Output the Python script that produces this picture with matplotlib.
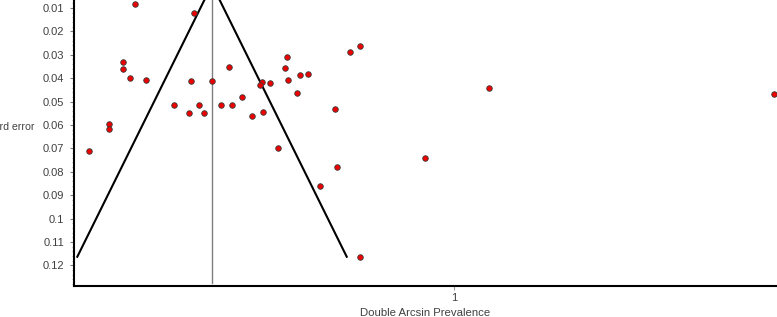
import numpy as np
import matplotlib.pyplot as plt
from matplotlib.ticker import MultipleLocator, FixedLocator

# study estimates (double arcsine prevalence) and their standard errors
effect = [0.460, 0.559, 0.440, 0.440, 0.451, 0.478, 0.554, 0.590, 0.618, 0.526,
          0.551, 0.568, 0.577, 0.606, 0.623, 0.640, 0.657, 0.416, 0.415, 0.381,
          0.675, 0.672, 0.688, 0.717, 0.713, 0.719, 0.739, 0.752, 0.734, 0.823,
          0.841, 0.677, 0.798, 0.701, 0.950, 1.058, 0.802, 0.772, 0.840, 1.541]
std_err = [0.0083, 0.0120, 0.0331, 0.0361, 0.0399, 0.0406, 0.0412, 0.0412, 0.0353, 0.0515,
           0.0547, 0.0515, 0.0550, 0.0515, 0.0515, 0.0479, 0.0563, 0.0594, 0.0618, 0.0710,
           0.0416, 0.0430, 0.0419, 0.0309, 0.0355, 0.0408, 0.0388, 0.0381, 0.0462, 0.0289,
           0.0262, 0.0544, 0.0530, 0.0700, 0.0742, 0.0443, 0.0778, 0.0859, 0.1163, 0.0466]
pooled = 0.590
funnel_se_max = 0.1163
y_ticks = [0.01, 0.02, 0.03, 0.04, 0.05, 0.06, 0.07, 0.08, 0.09, 0.1, 0.11, 0.12]
y_tick_labels = ["0.01", "0.02", "0.03", "0.04", "0.05", "0.06", "0.07", "0.08",
                 "0.09", "0.1", "0.11", "0.12"]

plt.rcParams['font.family'] = ['Liberation Sans', 'DejaVu Sans']

fig = plt.figure(figsize=(7.77, 3.17), dpi=100, facecolor="white")
ax = fig.add_axes([0.0952, 0.0978, 0.905, 0.9022])

# funnel (pseudo 95% limits) and pooled estimate
se_line = np.array([0.0, funnel_se_max])
ax.plot(pooled - 1.96 * se_line, se_line, color="black", lw=1.5, zorder=2)
ax.plot(pooled + 1.96 * se_line, se_line, color="black", lw=1.5, zorder=2)
ax.plot([pooled, pooled], [0.0, 0.1274], color="#7f7f7f", lw=1.0, zorder=1)

ax.scatter(effect, std_err, s=16, color="#ee0000", edgecolors="#3a3a3a",
           linewidths=0.6, zorder=3)

ax.set_xlim(0.3564, 1.5463)
ax.set_ylim(0.1288, 0.00658)

# axis styling
ax.spines['top'].set_visible(False)
ax.spines['right'].set_visible(False)
ax.spines['left'].set_linewidth(1.5)
ax.spines['bottom'].set_linewidth(1.5)

ax.yaxis.set_major_locator(FixedLocator(y_ticks))
ax.set_yticklabels(y_tick_labels)
ax.yaxis.set_minor_locator(MultipleLocator(0.002))
ax.tick_params(axis='y', which='major', length=3, width=0.8, color="#7f7f7f",
               labelsize=8, labelcolor="#404040", pad=4)
ax.tick_params(axis='y', which='minor', length=1.5, width=0.6, color="#9a9a9a")

ax.set_xticks([1])
ax.set_xticklabels(["1"])
ax.tick_params(axis='x', which='major', length=3, width=0.8, color="#9a9a9a",
               labelsize=8, labelcolor="#404040", pad=2)
ax.set_xlabel("Double Arcsin Prevalence", fontsize=8.2, color="#404040", labelpad=4)

# y label is horizontal and cut off by the left figure edge, as in the source
fig.text(34 / 777, (317 - 127) / 317, "Standard error", fontsize=7.6,
         color="#404040", ha="right", va="center")

fig.savefig("out.png", dpi=100)
